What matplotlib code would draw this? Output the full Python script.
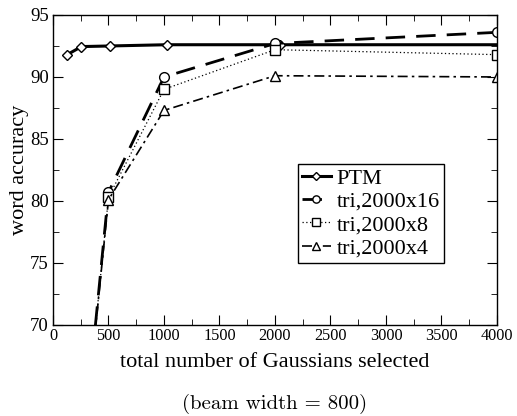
import matplotlib
matplotlib.use('Agg')
import matplotlib.pyplot as plt
from matplotlib.ticker import MultipleLocator

# values
ptm_x = [128, 256, 512, 1024, 2048, 4096]
ptm_y = [91.8, 92.45, 92.5, 92.6, 92.6, 92.6]
tri_x = [250, 500, 1000, 2000, 4000]
tri16_y = [58.0, 80.7, 90.0, 92.7, 93.6]
tri8_y = [58.0, 80.3, 89.0, 92.2, 91.8]
tri4_y = [58.0, 80.1, 87.3, 90.1, 90.0]

plt.rcParams['font.family'] = ['Liberation Serif', 'DejaVu Serif']

fig = plt.figure(figsize=(5.17, 4.16), dpi=100)
ax = fig.add_axes([0.1025, 0.219, 0.8588, 0.745])

mk = dict(markerfacecolor='white', markeredgecolor='black', markersize=7, markeredgewidth=1.0)
ax.plot(ptm_x, ptm_y, '-', color='black', lw=2.2, marker='D', label='PTM',
        **dict(mk, markersize=5))
ax.plot(tri_x, tri16_y, color='black', lw=2.0, dashes=(7, 4), marker='o', label='tri,2000x16', **mk)
ax.plot(tri_x, tri8_y, color='black', lw=0.9, dashes=(1, 2), marker='s', label='tri,2000x8', **mk)
ax.plot(tri_x, tri4_y, color='black', lw=1.2, dashes=(6, 2.5, 1.5, 2.5), marker='^', label='tri,2000x4', **mk)

ax.set_xlim(0, 4000)
ax.set_ylim(70, 95)
ax.xaxis.set_major_locator(MultipleLocator(500))
ax.xaxis.set_minor_locator(MultipleLocator(250))
ax.yaxis.set_major_locator(MultipleLocator(5))
ax.yaxis.set_minor_locator(MultipleLocator(2.5))
ax.tick_params(which='both', direction='in', top=True, right=True)
ax.tick_params(axis='x', labelsize=11.7, pad=2)
ax.tick_params(axis='y', labelsize=13.5, pad=3)
ax.tick_params(which='major', length=7)
ax.tick_params(which='minor', length=4)
for s in ax.spines.values():
    s.set_linewidth(1.0)

ax.set_xlabel('total number of Gaussians selected', fontsize=16, labelpad=7)
ax.set_ylabel('word accuracy', fontsize=16, labelpad=1)

leg = ax.legend(loc='lower right', bbox_to_anchor=(0.8806, 0.2), borderaxespad=0, fontsize=16,
                handlelength=1.3, handletextpad=0.25, borderpad=0.2, labelspacing=0.12,
                fancybox=False, framealpha=1, edgecolor='black', markerscale=0.75)
leg.get_frame().set_linewidth(1.0)

fig.text(0.532, 0.028, '(beam width = 800)', ha='center', va='center', fontsize=15,
         family=['cmr10', 'DejaVu Serif'])

fig.savefig('out.png', dpi=100)
